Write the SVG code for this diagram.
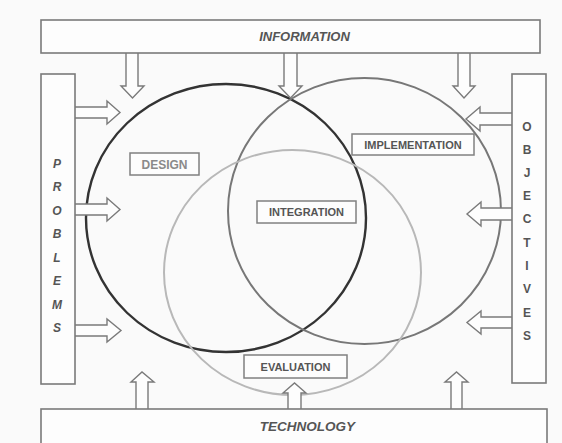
<svg xmlns="http://www.w3.org/2000/svg" width="562" height="443" viewBox="0 0 562 443">
<style>
.box{fill:#fdfdfd;stroke:#7a7a7a;stroke-width:1.6}
.arr{fill:#fdfdfd;stroke:#7a7a7a;stroke-width:1.4;stroke-linejoin:miter}
.lbl{fill:#fdfdfd;stroke:#808080;stroke-width:1.5}
.t{font-family:"Liberation Sans",Arial,sans-serif;font-weight:bold;fill:#555}
.ti{font-family:"Liberation Sans",Arial,sans-serif;font-weight:bold;font-style:italic;fill:#555}
</style>
<rect width="562" height="443" fill="#fafafa"/>
<g id="circles">
<ellipse id="design-circle" cx="226" cy="218" rx="140" ry="134" fill="none" stroke="#333" stroke-width="2.4"/>
<ellipse id="implementation-circle" cx="364.5" cy="211" rx="136.5" ry="133" fill="none" stroke="#777" stroke-width="2"/>
<ellipse id="evaluation-circle" cx="292.5" cy="272.5" rx="128.5" ry="122.5" fill="none" stroke="#b8b8b8" stroke-width="2"/>
</g>
<g id="connectors">
<path class="arr" d="M126,53 V86 H121 L132.5,98 L144,86 H138 V53"/>
<path class="arr" d="M284,53 V86 H279 L290.5,98 L302,86 H297 V53"/>
<path class="arr" d="M458,53 V86 H453 L464,98 L475,86 H470 V53"/>
<path class="arr" d="M75,107 H107 V101 L120,112.5 L107,124 V118 H75"/>
<path class="arr" d="M75,204 H107 V198 L120,209.5 L107,221 V215 H75"/>
<path class="arr" d="M75,325 H107 V319 L121,330.5 L107,342 V336 H75"/>
<path class="arr" d="M512,113 H480 V107 L466,119 L480,131 V125 H512"/>
<path class="arr" d="M512,208 H481 V202 L467,214 L481,226 V220 H512"/>
<path class="arr" d="M512,317 H481 V311 L467,322.5 L481,334 V328 H512"/>
<path class="arr" d="M136,409 V382 H131 L142,372 L154,382 H148 V409"/>
<path class="arr" d="M288,409 V393 H283 L294.5,383 L306,393 H301 V409"/>
<path class="arr" d="M451,409 V382 H445 L456.5,372 L468,382 H462 V409"/>
</g>
<g id="information">
<rect class="box" x="41" y="20" width="499" height="33"/>
<text class="ti" x="304.5" y="41" font-size="13" text-anchor="middle">INFORMATION</text>
</g>
<g id="technology">
<rect class="box" x="41" y="409" width="506" height="40"/>
<text class="ti" x="307.5" y="431" font-size="13.5" text-anchor="middle">TECHNOLOGY</text>
</g>
<g id="problems">
<rect class="box" x="41" y="74" width="34" height="310"/>
<g class="ti" font-size="12" text-anchor="middle">
<text x="57" y="167.5">P</text>
<text x="57" y="191">R</text>
<text x="57" y="214.5">O</text>
<text x="57" y="238">B</text>
<text x="57" y="261.5">L</text>
<text x="57" y="285">E</text>
<text x="57" y="308.5">M</text>
<text x="57" y="332">S</text>
</g>
</g>
<g id="objectives">
<rect class="box" x="512" y="74" width="34" height="309"/>
<g class="t" font-size="12" text-anchor="middle">
<text x="527" y="130.5">O</text>
<text x="527" y="153.5">B</text>
<text x="527" y="177">J</text>
<text x="527" y="200">E</text>
<text x="527" y="223">C</text>
<text x="527" y="246.5">T</text>
<text x="527" y="269.5">I</text>
<text x="527" y="293">V</text>
<text x="527" y="316.5">E</text>
<text x="527" y="339.5">S</text>
</g>
</g>
<g id="design">
<rect class="lbl" x="130" y="153" width="69" height="22"/>
<text class="t" x="164.5" y="168.5" font-size="12" text-anchor="middle" fill="#888" style="fill:#8a8a8a">DESIGN</text>
</g>
<g id="implementation">
<rect class="lbl" x="352" y="134" width="122" height="21"/>
<text class="t" x="413" y="148.5" font-size="11" text-anchor="middle">IMPLEMENTATION</text>
</g>
<g id="integration">
<rect class="lbl" x="257" y="201" width="99" height="22"/>
<text class="t" x="306.5" y="216" font-size="11" text-anchor="middle">INTEGRATION</text>
</g>
<g id="evaluation">
<rect class="lbl" x="244" y="355" width="103" height="23"/>
<text class="t" x="295.5" y="370.5" font-size="11" text-anchor="middle">EVALUATION</text>
</g>
</svg>
